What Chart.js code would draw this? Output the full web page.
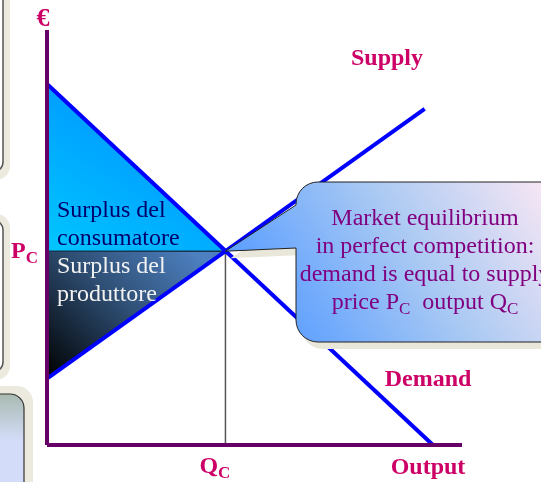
<!DOCTYPE html>
<html lang="it">
<head>
<meta charset="UTF-8">
<title>Market equilibrium</title>
<script src="https://cdn.jsdelivr.net/npm/chart.js"></script>
<style>
  html, body { margin: 0; padding: 0; background: #fff; }
  canvas { display: block; }
</style>
</head>
<body>
<canvas id="equilibrium" width="541" height="482"></canvas>
<script>
// readings (quantity on x, price on y, 0..10 each)
const demandQ = [0, 9.3];
const demandP = [8.7, 0];
const supplyQ = [0, 9.1];
const supplyP = [1.6, 8.1];
const equilibriumQ = 4.3;
const equilibriumP = 4.67;
const axisMax = 10;

const consumerLabel = ['Surplus del', 'consumatore'];
const producerLabel = ['Surplus del', 'produttore'];
const calloutLines = ['Market equilibrium', 'in perfect competition:', 'demand is equal to supply'];

const serif = '"Liberation Serif", "Times New Roman", serif';
const red = '#cc0066';
const purple = '#800080';

function pts(qs, ps) {
    return qs.map((q, i) => ({ x: q, y: ps[i] }));
}

// text with a subscript, left aligned at x
function drawSub(ctx, main, sub, x, y, size, subSize, bold) {
    const w = bold ? 'bold ' : '';
    ctx.font = w + size + 'px ' + serif;
    ctx.fillText(main, x, y);
    const mw = ctx.measureText(main).width;
    ctx.font = w + subSize + 'px ' + serif;
    ctx.fillText(sub, x + mw, y + size * 0.22);
    return mw + ctx.measureText(sub).width;
}

function roundBox(ctx, x0, y0, x1, y1, r) {
    ctx.beginPath();
    ctx.moveTo(x0 + r, y0);
    ctx.arcTo(x1, y0, x1, y1, r);
    ctx.arcTo(x1, y1, x0, y1, r);
    ctx.arcTo(x0, y1, x0, y0, r);
    ctx.arcTo(x0, y0, x1, y0, r);
    ctx.closePath();
}

function calloutPath(ctx, x0, y0, x1, y1, r, tip, tailTop, tailBot) {
    ctx.beginPath();
    ctx.moveTo(x0 + r, y0);
    ctx.lineTo(x1 - r, y0);
    ctx.arcTo(x1, y0, x1, y0 + r, r);
    ctx.lineTo(x1, y1 - r);
    ctx.arcTo(x1, y1, x1 - r, y1, r);
    ctx.lineTo(x0 + r, y1);
    ctx.arcTo(x0, y1, x0, y1 - r, r);
    ctx.lineTo(x0, tailBot);
    ctx.lineTo(tip.x, tip.y);
    ctx.lineTo(x0, tailTop);
    ctx.lineTo(x0, y0 + r);
    ctx.arcTo(x0, y0, x0 + r, y0, r);
    ctx.closePath();
}

// slide leftovers on the left edge
const slideEdges = {
    id: 'slideEdges',
    beforeDraw(chart) {
        const ctx = chart.ctx;
        ctx.save();
        ctx.fillStyle = '#fff';
        ctx.fillRect(0, 0, chart.width, chart.height);
        const beige = '#ece9df';
        [[-20, 180], [214, 380]].forEach(([a, b]) => {
            ctx.fillStyle = beige;
            roundBox(ctx, -30, a, 10, b, 14);
            ctx.fill();
            ctx.fillStyle = '#fff';
            roundBox(ctx, -30, a + 6, 3, b - 8, 10);
            ctx.fill();
            ctx.strokeStyle = '#555';
            ctx.lineWidth = 1.5;
            ctx.stroke();
        });
        ctx.fillStyle = beige;
        roundBox(ctx, -30, 386, 33, 520, 16);
        ctx.fill();
        const g = ctx.createLinearGradient(0, 394, 0, 440);
        g.addColorStop(0, '#a9bab1');
        g.addColorStop(1, '#d3dcf8');
        ctx.fillStyle = g;
        roundBox(ctx, -30, 394, 24, 520, 14);
        ctx.fill();
        ctx.strokeStyle = '#333';
        ctx.lineWidth = 1.2;
        ctx.stroke();
        ctx.restore();
    }
};

const annotations = {
    id: 'annotations',
    afterDatasetsDraw(chart) {
        const ctx = chart.ctx;
        const xs = chart.scales.x, ys = chart.scales.y;
        const tip = { x: xs.getPixelForValue(equilibriumQ), y: ys.getPixelForValue(equilibriumP) };
        ctx.save();

        // surplus labels
        ctx.textAlign = 'left';
        ctx.textBaseline = 'alphabetic';
        ctx.font = '24px ' + serif;
        ctx.fillStyle = '#00006a';
        ctx.fillText(consumerLabel[0], 57, 217);
        ctx.fillText(consumerLabel[1], 57, 245);
        ctx.fillStyle = '#f2f2f2';
        ctx.fillText(producerLabel[0], 57, 273);
        ctx.fillText(producerLabel[1], 57, 301);

        // callout with shadow
        const x0 = 296, y0 = 182, x1 = 580, y1 = 342;
        ctx.fillStyle = '#e9e6da';
        ctx.save();
        ctx.translate(5, 7);
        calloutPath(ctx, x0, y0, x1, y1, 22, tip, 205, 248);
        ctx.fill();
        ctx.restore();
        const g = ctx.createLinearGradient(x0, y1, 541, y0);
        g.addColorStop(0, '#5ea0ff');
        g.addColorStop(0.5, '#a9c9f3');
        g.addColorStop(1, '#f6e6f4');
        ctx.fillStyle = g;
        calloutPath(ctx, x0, y0, x1, y1, 22, tip, 205, 248);
        ctx.fill();
        ctx.strokeStyle = '#222';
        ctx.lineWidth = 1;
        ctx.stroke();

        // callout text
        const cx = 425;
        ctx.fillStyle = purple;
        ctx.font = '24px ' + serif;
        ctx.textAlign = 'center';
        ctx.fillText(calloutLines[0], cx, 225);
        ctx.fillText(calloutLines[1], cx, 253);
        ctx.fillText(calloutLines[2], cx, 281);
        ctx.textAlign = 'left';
        ctx.font = '24px ' + serif;
        const w1 = ctx.measureText('price P').width;
        const w2 = ctx.measureText('  output Q').width;
        ctx.font = '17px ' + serif;
        const ws = ctx.measureText('C').width;
        let x = cx - (w1 + w2 + 2 * ws) / 2;
        x += drawSub(ctx, 'price P', 'C', x, 309, 24, 17, false);
        drawSub(ctx, '  output Q', 'C', x, 309, 24, 17, false);

        // axis & curve labels
        ctx.fillStyle = red;
        ctx.textAlign = 'center';
        ctx.font = 'bold 26px ' + serif;
        ctx.fillText('€', 43, 26);
        ctx.font = 'bold 24px ' + serif;
        ctx.fillText('Supply', 387, 65);
        ctx.fillText('Demand', 428, 386);
        ctx.fillText('Output', 428, 474);
        ctx.textAlign = 'left';
        drawSub(ctx, 'Q', 'C', tip.x - 26, 473, 24, 17, true);
        drawSub(ctx, 'P', 'C', 11, tip.y + 7, 24, 17, true);
        ctx.restore();
    }
};

const ctx = document.getElementById('equilibrium').getContext('2d');

new Chart(ctx, {
    type: 'scatter',
    data: {
        datasets: [
            {   // price axis
                data: [{ x: 0, y: 0 }, { x: 0, y: axisMax }],
                borderColor: '#660066', borderWidth: 4, order: 0
            },
            {   // quantity axis
                data: [{ x: 0, y: 0 }, { x: axisMax, y: 0 }],
                borderColor: '#660066', borderWidth: 4, order: 0
            },
            {
                label: 'Demand',
                data: pts(demandQ, demandP),
                borderColor: '#0000ff', borderWidth: 4, order: 1
            },
            {
                label: 'Supply',
                data: pts(supplyQ, supplyP),
                borderColor: '#0000ff', borderWidth: 4, order: 1
            },
            {   // Qc drop line
                data: [{ x: equilibriumQ, y: 0 }, { x: equilibriumQ, y: equilibriumP }],
                borderColor: '#555', borderWidth: 1.5, order: 2
            },
            {   // Pc line between the two surpluses
                data: [{ x: 0, y: equilibriumP }, { x: equilibriumQ, y: equilibriumP }],
                borderColor: '#1c3550', borderWidth: 1.5, order: 2
            },
            {
                label: 'Surplus del consumatore',
                data: [{ x: demandQ[0], y: demandP[0] }, { x: equilibriumQ, y: equilibriumP }],
                borderColor: '#000', borderWidth: 1,
                fill: { value: equilibriumP },
                backgroundColor: (c) => {
                    const a = c.chart.chartArea;
                    if (!a) return '#0af';
                    const xs = c.chart.scales.x, ys = c.chart.scales.y;
                    const g = c.chart.ctx.createLinearGradient(
                        xs.getPixelForValue(0), ys.getPixelForValue(equilibriumP),
                        xs.getPixelForValue(equilibriumQ * 0.6), ys.getPixelForValue(demandP[0]));
                    g.addColorStop(0, '#00c6ff');
                    g.addColorStop(1, '#0090ff');
                    return g;
                },
                order: 3
            },
            {
                label: 'Surplus del produttore',
                data: [{ x: supplyQ[0], y: supplyP[0] }, { x: equilibriumQ, y: equilibriumP }],
                borderColor: '#000', borderWidth: 1,
                fill: { value: equilibriumP },
                backgroundColor: (c) => {
                    const a = c.chart.chartArea;
                    if (!a) return '#357';
                    const xs = c.chart.scales.x, ys = c.chart.scales.y;
                    const g = c.chart.ctx.createLinearGradient(
                        xs.getPixelForValue(0), ys.getPixelForValue(supplyP[0]),
                        xs.getPixelForValue(equilibriumQ * 0.75), ys.getPixelForValue(equilibriumP + 0.3));
                    g.addColorStop(0, '#000000');
                    g.addColorStop(0.55, '#2f4f75');
                    g.addColorStop(1, '#4d80c0');
                    return g;
                },
                order: 3
            }
        ]
    },
    options: {
        responsive: false,
        animation: false,
        showLine: true,
        clip: false,
        layout: { padding: { left: 47, right: 79, top: 30, bottom: 37 } },
        elements: { point: { radius: 0, hoverRadius: 0 }, line: { tension: 0 } },
        scales: {
            x: { type: 'linear', min: 0, max: axisMax, display: false },
            y: { type: 'linear', min: 0, max: axisMax, display: false }
        },
        plugins: {
            legend: { display: false },
            tooltip: { enabled: false }
        }
    },
    plugins: [slideEdges, annotations]
});
</script>
</body>
</html>
